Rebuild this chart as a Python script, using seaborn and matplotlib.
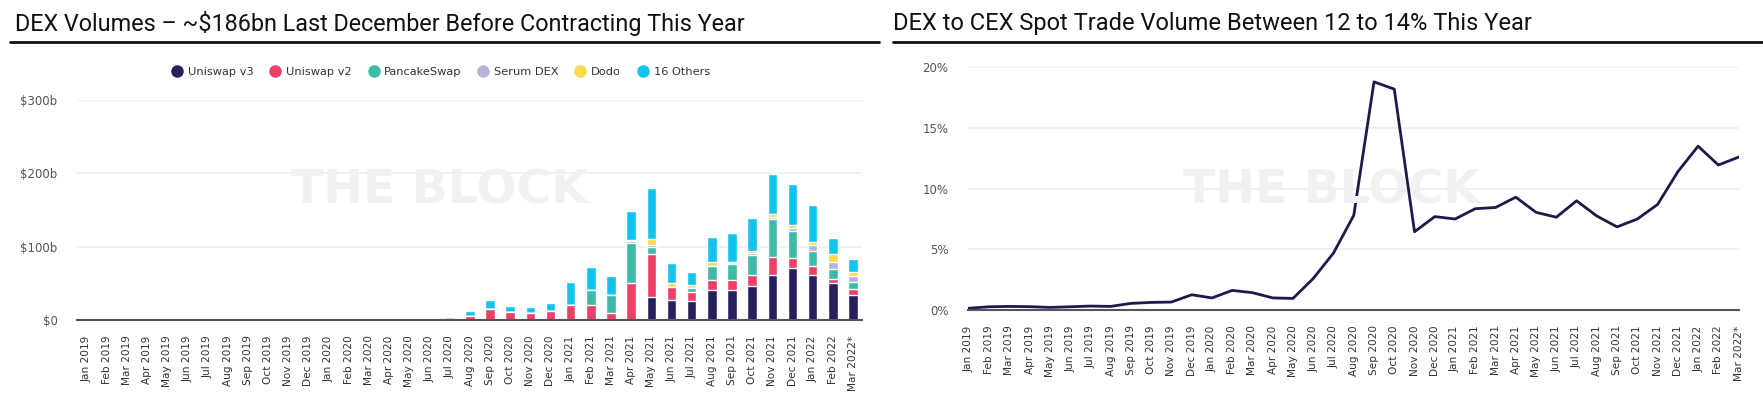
import numpy as np
import pandas as pd
import matplotlib
matplotlib.use('Agg')
import matplotlib.pyplot as plt
from matplotlib.lines import Line2D
import seaborn as sns

months = ['Jan 2019', 'Feb 2019', 'Mar 2019', 'Apr 2019', 'May 2019', 'Jun 2019',
          'Jul 2019', 'Aug 2019', 'Sep 2019', 'Oct 2019', 'Nov 2019', 'Dec 2019',
          'Jan 2020', 'Feb 2020', 'Mar 2020', 'Apr 2020', 'May 2020', 'Jun 2020',
          'Jul 2020', 'Aug 2020', 'Sep 2020', 'Oct 2020', 'Nov 2020', 'Dec 2020',
          'Jan 2021', 'Feb 2021', 'Mar 2021', 'Apr 2021', 'May 2021', 'Jun 2021',
          'Jul 2021', 'Aug 2021', 'Sep 2021', 'Oct 2021', 'Nov 2021', 'Dec 2021',
          'Jan 2022', 'Feb 2022', 'Mar 2022*']

# DEX volumes ($bn)
uniswap_v3 = [0]*28 + [31.8, 26.8, 26.4, 41, 41, 46, 61.4, 71, 61, 50, 34.5]
uniswap_v2 = [0]*16 + [0.2, 0.4, 1.2, 6, 15, 10.9, 9, 12.3, 20, 20, 9, 50,
                       58.6, 17.7, 11.4, 14, 14, 15.5, 25, 14, 12.7, 6.4, 7.3]
pancakeswap = [0]*22 + [1, 0, 0, 21, 25.5, 55.5, 8.6, 1, 6.4, 19, 21.4, 26.8,
                        51, 36.8, 21, 12.7, 10]
serum_dex = [0]*27 + [1.6, 3.6, 0, 0, 0, 1.4, 3.6, 3.6, 3.2, 7.7, 10.5, 8.2]
dodo = [0]*27 + [2.0, 7.7, 5, 3.6, 5.5, 1.4, 1.8, 3.2, 4, 4, 10.5, 5.9]
others = [0]*13 + [1.2, 1.4, 1.3, 1.4, 1.6, 3.3, 6.8, 11.8, 8.2, 7.3, 11.4, 31.8,
                   31.4, 25.5, 39.5, 69.5, 26.8, 18, 34, 39.5, 45.5, 55, 57, 51, 21.8, 17.7]

# DEX to CEX spot share (%)
dex_cex_share = [0.15, 0.27, 0.3, 0.28, 0.22, 0.27, 0.33, 0.3, 0.55, 0.63, 0.66, 1.26,
                 1.0, 1.62, 1.43, 1.0, 0.96, 2.6, 4.7, 7.8, 18.8, 18.2, 6.45, 7.7,
                 7.5, 8.35, 8.45, 9.3, 8.05, 7.65, 9.0, 7.75, 6.85, 7.5, 8.7, 11.4,
                 13.5, 11.95, 12.6]

series = ['Uniswap v3', 'Uniswap v2', 'PancakeSwap', 'Serum DEX', 'Dodo', '16 Others']
colors = ['#26215c', '#ec4067', '#3dbba7', '#b6b2de', '#fcd94b', '#12c3ee']

vol = pd.DataFrame({'month': months, 'Uniswap v3': uniswap_v3, 'Uniswap v2': uniswap_v2,
                    'PancakeSwap': pancakeswap, 'Serum DEX': serum_dex, 'Dodo': dodo,
                    '16 Others': others})
share = pd.DataFrame({'month': months, 'share': dex_cex_share})

sns.set_style('white')
plt.rcParams['font.family'] = ['DejaVu Sans']

fig = plt.figure(figsize=(17.63, 3.97), dpi=100)
ax1 = fig.add_axes([0.0437, 0.194, 0.4453, 0.554])
ax2 = fig.add_axes([0.549, 0.219, 0.4374, 0.6115])

tick_col = '#555555'
grid_col = '#eeeeee'

# stacked bars: draw cumulative totals from the top layer down
cum = vol[series].cumsum(axis=1)
for name, col in reversed(list(zip(series, colors))):
    sns.barplot(x=vol['month'], y=cum[name], order=months, color=col,
                width=0.47, saturation=1, ax=ax1, zorder=3)

ax1.set_ylim(0, 300)
ax1.set_xlim(-0.47, 38.45)
ax1.set_yticks([0, 100, 200, 300])
ax1.set_yticklabels(['$0', '$100b', '$200b', '$300b'])

sns.lineplot(data=share, x='month', y='share', color='#1c1a4a', linewidth=2,
             ax=ax2, zorder=3)
ax2.set_ylim(0, 20)
ax2.set_xlim(-0.05, 38.02)
ax2.set_yticks([0, 5, 10, 15, 20])
ax2.set_yticklabels(['0%', '5%', '10%', '15%', '20%'])

for ax in (ax1, ax2):
    ax.set_xlabel('')
    ax.set_ylabel('')
    for s in ['top', 'left', 'right']:
        ax.spines[s].set_visible(False)
    ax.spines['bottom'].set_color('#555555')
    ax.spines['bottom'].set_linewidth(1.5)
    ax.spines['bottom'].set_zorder(4)
    ax.grid(axis='y', color=grid_col, linewidth=1.2, zorder=0)
    ax.grid(axis='x', visible=False)
    ax.set_xticks(range(len(months)))
    ax.set_xticklabels(months, rotation=90, fontsize=7.6, color='#333333')
    ax.tick_params(axis='y', labelsize=8.5, labelcolor=tick_col, length=0, pad=14)
    ax.tick_params(axis='x', length=0, pad=11)

# watermarks
fig.text(0.2495, 0.52, 'THE BLOCK', fontsize=34, fontweight='bold', color='#f1f1f1',
         ha='center', va='center', zorder=0)
fig.text(0.755, 0.52, 'THE BLOCK', fontsize=34, fontweight='bold', color='#f1f1f1',
         ha='center', va='center', zorder=0)

# titles and rules
fig.text(0.0085, 0.94, 'DEX Volumes – ~$186bn Last December Before Contracting This Year',
         fontsize=16.8, family='Roboto', color='#111111', ha='left', va='center')
fig.text(0.5065, 0.94, 'DEX to CEX Spot Trade Volume Between 12 to 14% This Year',
         fontsize=17, family='Roboto', color='#111111', ha='left', va='center')
fig.add_artist(Line2D([0.0057, 0.4985], [0.894, 0.894], color='#111111', linewidth=2))
fig.add_artist(Line2D([0.5065, 1.0], [0.894, 0.894], color='#111111', linewidth=2))

# legend
handles = [Line2D([], [], marker='o', linestyle='', markersize=8,
                  markerfacecolor=c, markeredgecolor=c) for c in colors]
fig.legend(handles, series, loc='center', bbox_to_anchor=(0.25, 0.818), ncol=6,
           frameon=False, fontsize=8.2, handletextpad=0.45, columnspacing=1.4,
           handlelength=1.0, labelcolor='#333333')

fig.savefig('out.png', dpi=100)
